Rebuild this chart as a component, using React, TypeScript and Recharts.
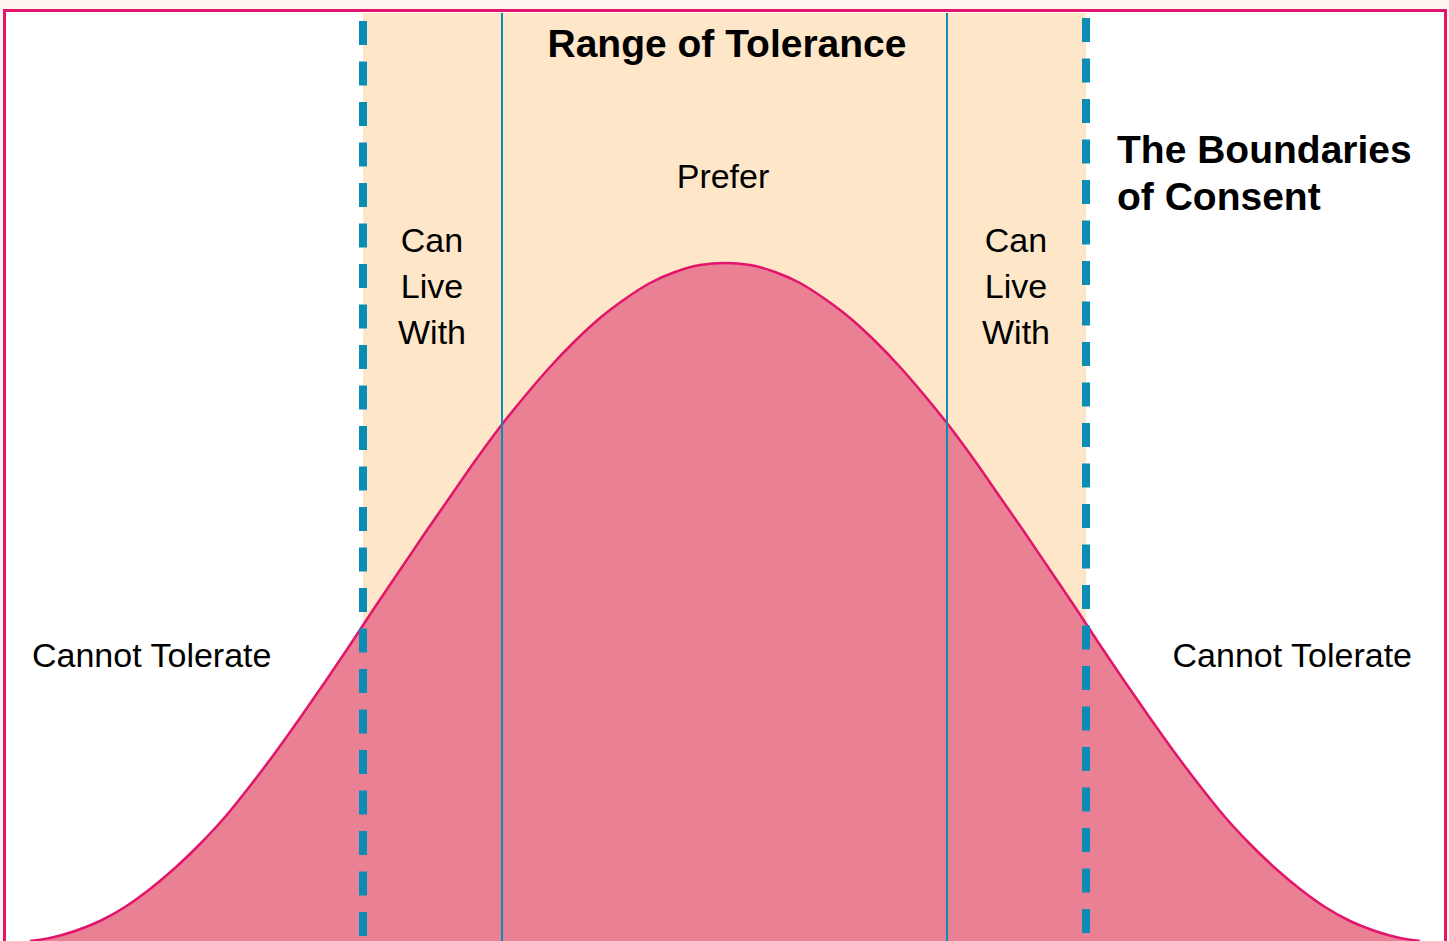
import React from 'react';
import {
  ComposedChart,
  Area,
  XAxis,
  YAxis,
  ReferenceArea,
  ReferenceLine
} from 'recharts';

// Curve: x position and height above the bottom edge
const curveX = [30, 50, 75, 100, 125, 150, 175, 200, 225, 250, 275, 300, 325, 350, 375, 400, 425, 450,
  475, 500, 525, 550, 575, 600, 625, 650, 675, 700, 725,
  750, 775, 800, 825, 850, 875, 900, 925, 950, 975, 1000, 1025, 1050, 1075, 1100, 1125, 1150,
  1175, 1200, 1225, 1250, 1275, 1300, 1325, 1350, 1375, 1400, 1420];
const curveHeight = [0, 3, 10, 20, 34, 52, 73, 97, 124, 155, 188, 223, 259, 296, 334, 371, 408, 444,
  480, 514, 545, 574, 600, 623, 642, 658, 669, 676, 678,
  676, 669, 658, 642, 623, 600, 574, 545, 514, 480, 444, 408, 371, 334, 296, 259, 223,
  188, 155, 124, 97, 73, 52, 34, 20, 10, 3, 0];

// Zone boundaries
const toleranceBand = [363, 1086];
const consentBounds = [363, 1086];
const preferBounds = [502, 947];

const W = 1449;
const H = 941;

const PINK_FILL = '#EA8094';
const PINK_LINE = '#E3146B';
const BLUE = '#0A8CB5';
const PEACH = '#FEE6C9';
const FONT = '"Liberation Sans", Arial, Helvetica, sans-serif';

const chartData = curveX.map((x, i) => ({ x, h: curveHeight[i] }));

// text layer, drawn above the chart
const Labels = () => (
  <svg width={W} height={H} style={{ position: 'absolute', left: 0, top: 0, pointerEvents: 'none' }}>
    <g fontFamily={FONT} fill="#000">
      <text x={727} y={57} fontSize={39} fontWeight="bold" textAnchor="middle">Range of Tolerance</text>
      <text x={723} y={188} fontSize={34} textAnchor="middle">Prefer</text>
      <text x={432} y={252} fontSize={34} textAnchor="middle">Can</text>
      <text x={432} y={298} fontSize={34} textAnchor="middle">Live</text>
      <text x={432} y={344} fontSize={34} textAnchor="middle">With</text>
      <text x={1016} y={252} fontSize={34} textAnchor="middle">Can</text>
      <text x={1016} y={298} fontSize={34} textAnchor="middle">Live</text>
      <text x={1016} y={344} fontSize={34} textAnchor="middle">With</text>
      <text x={32} y={667} fontSize={34}>Cannot Tolerate</text>
      <text x={1412} y={667} fontSize={34} textAnchor="end">Cannot Tolerate</text>
      <text x={1117} y={163} fontSize={39} fontWeight="bold">The Boundaries</text>
      <text x={1117} y={210} fontSize={39} fontWeight="bold">of Consent</text>
    </g>
  </svg>
);

export default function App() {
  return (
    <div style={{ position: 'absolute', left: 0, top: 0, width: W, height: H, background: '#FFF5EF', overflow: 'hidden' }}>
      <div
        style={{
          position: 'absolute',
          left: 3,
          top: 9,
          width: 1444,
          height: 940,
          boxSizing: 'border-box',
          border: `3px solid ${PINK_LINE}`,
          borderBottom: 'none',
          background: '#fff'
        }}
      />
      <div style={{ position: 'absolute', left: 0, top: 0 }}>
        <ComposedChart width={W} height={H} data={chartData} margin={{ top: 0, right: 0, bottom: 0, left: 0 }}>
          <XAxis type="number" dataKey="x" domain={[0, W]} hide />
          <YAxis type="number" domain={[0, H]} hide />
          <ReferenceArea x1={toleranceBand[0]} x2={toleranceBand[1]} y1={0} y2={928} fill={PEACH} fillOpacity={1} stroke="none" />
          <Area
            type="monotone"
            dataKey="h"
            fill={PINK_FILL}
            fillOpacity={1}
            stroke={PINK_LINE}
            strokeWidth={2.5}
            isAnimationActive={false}
            dot={false}
            activeDot={false}
          />
          {preferBounds.map((x) => (
            <ReferenceLine
              key={`p-${x}`}
              segment={[{ x, y: 928 }, { x, y: 0 }]}
              stroke={BLUE}
              strokeWidth={2}
            />
          ))}
          {consentBounds.map((x, i) => (
            <ReferenceLine
              key={`c-${x}`}
              segment={[{ x, y: i === 0 ? 920 : 923 }, { x, y: 0 }]}
              stroke={BLUE}
              strokeWidth={8}
              strokeDasharray="24 16.5"
            />
          ))}
        </ComposedChart>
      </div>
      <Labels />
    </div>
  );
}
